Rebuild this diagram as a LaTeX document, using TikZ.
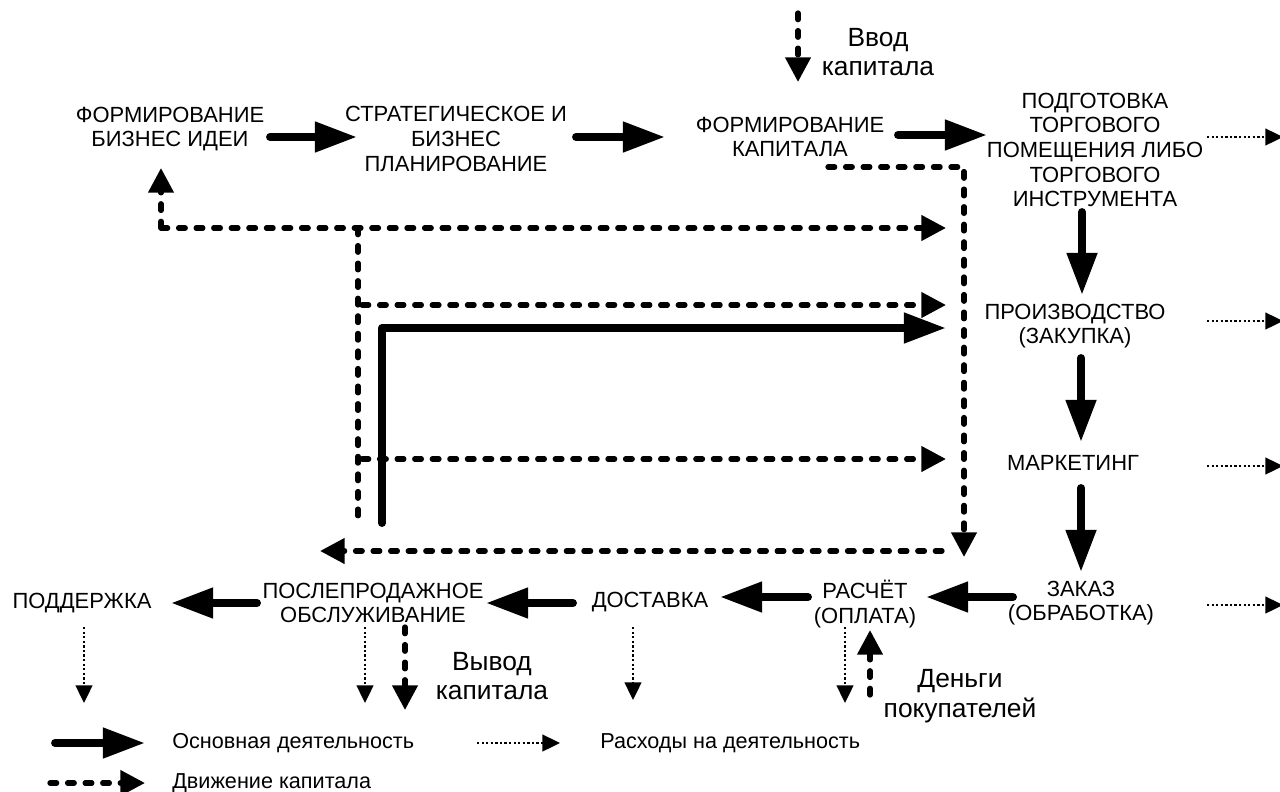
\documentclass[tikz,border=0pt]{standalone}
\usepackage{fontspec}
\setmainfont{Liberation Sans}
\usetikzlibrary{arrows.meta,calc}
\tikzset{
  stage/.style={align=center,inner sep=0pt,font=\fontsize{12.5}{14}\selectfont},
  flowlabel/.style={align=center,inner sep=0pt,font=\fontsize{15}{17}\selectfont},
  legtext/.style={anchor=west,inner sep=0pt,font=\fontsize{12.3}{14}\selectfont},
  mainarr/.style={line width=4.5pt,line cap=round,line join=round,-{Triangle[length=24pt,width=16.5pt]}},
  caparr/.style={line width=3pt,line cap=round,dash pattern=on 3.8pt off 6.2pt,-{Triangle[length=14pt,width=14pt]}},
  capline/.style={line width=3pt,line cap=round,dash pattern=on 3.8pt off 6.2pt},
  costarr/.style={line width=1.1pt,dash pattern=on 1.3pt off 1.3pt,-{Triangle[length=10pt,width=9.5pt]}}
}
\begin{document}
\begin{tikzpicture}[x=0.02cm,y=-0.02cm]
\useasboundingbox (0,0) rectangle (1280,791);
% stages
\node[stage](idea) at(170,129) {ФОРМИРОВАНИЕ\\БИЗНЕС ИДЕИ};
\node[stage](plan) at(456,139) {СТРАТЕГИЧЕСКОЕ И\\БИЗНЕС\\ПЛАНИРОВАНИЕ};
\node[stage](capital) at(790,137) {ФОРМИРОВАНИЕ\\КАПИТАЛА};
\node[stage](prep) at(1095,150) {ПОДГОТОВКА\\ТОРГОВОГО\\ПОМЕЩЕНИЯ ЛИБО\\ТОРГОВОГО\\ИНСТРУМЕНТА};
\node[stage](prod) at(1075,326) {ПРОИЗВОДСТВО\\(ЗАКУПКА)};
\node[stage](mkt) at(1073,463) {МАРКЕТИНГ};
\node[stage](order) at(1081,603) {ЗАКАЗ\\(ОБРАБОТКА)};
\node[stage](pay) at(865,604) {РАСЧЁТ\\(ОПЛАТА)};
\node[stage](deliv) at(650,602) {ДОСТАВКА};
\node[stage](after) at(373,603) {ПОСЛЕПРОДАЖНОЕ\\ОБСЛУЖИВАНИЕ};
\node[stage](support) at(82,603) {ПОДДЕРЖКА};
\node[flowlabel](vvod) at(878,52) {Ввод\\капитала};
\node[flowlabel](vyvod) at(492,676) {Вывод\\капитала};
\node[flowlabel](dengi) at(960,696) {Деньги\\покупателей};
% main flow
\draw[mainarr] ($(idea)+(100,8)$) -- ($(plan)+(-99,-2)$);
\draw[mainarr] ($(plan)+(120,-2)$) -- ($(capital)+(-125,0)$);
\draw[mainarr] ($(capital)+(108,-2)$) -- ($(prep)+(-108,-15)$);
\draw[mainarr] ($(prep)+(-13,62)$) -- ($(prod)+(7,-31)$);
\draw[mainarr] ($(prod)+(6,32)$) -- ($(mkt)+(8,-21)$);
\draw[mainarr] ($(mkt)+(8,25)$) -- ($(order)+(0,-31)$);
\draw[mainarr] ($(order)+(-68,-6)$) -- ($(pay)+(61,-7)$);
\draw[mainarr] ($(pay)+(-57,-7)$) -- ($(deliv)+(70,-5)$);
\draw[mainarr] ($(deliv)+(-77,1)$) -- ($(after)+(113,0)$);
\draw[mainarr] ($(after)+(-116,0)$) -- ($(support)+(89,0)$);
\coordinate (lstart) at(382,523);
\coordinate (lcorner) at(382,328);
\draw[mainarr] (lstart) -- (lcorner) -- ($(prod)+(-129,2)$);
% costs
\coordinate (cost1) at(1283,137);
\coordinate (cost2) at(1283,321);
\coordinate (cost3) at(1283,466);
\coordinate (cost4) at(1283,605);
\coordinate (cost5) at(84,703);
\coordinate (cost6) at(365,703);
\coordinate (cost7) at(633,700);
\coordinate (cost8) at(845,703);
\draw[costarr] ($(prep)+(112,-13)$) -- (cost1);
\draw[costarr] ($(prod)+(132,-5)$) -- (cost2);
\draw[costarr] ($(mkt)+(134,3)$) -- (cost3);
\draw[costarr] ($(order)+(126,2)$) -- (cost4);
\draw[costarr] ($(support)+(2,24)$) -- (cost5);
\draw[costarr] ($(after)+(-8,24)$) -- (cost6);
\draw[costarr] ($(deliv)+(-17,25)$) -- (cost7);
\draw[costarr] ($(pay)+(-20,23)$) -- (cost8);
% capital
\coordinate (vin) at(798,13);
\coordinate (vout) at(405,710);
\coordinate (money) at(870,695);
\draw[caparr] (vin) -- ($(capital)+(8,-55)$);
\draw[caparr] ($(after)+(32,24)$) -- (vout);
\draw[caparr] (money) -- ($(pay)+(5,26)$);
\coordinate (rtop) at(964,167);
\coordinate (rbot) at(964,557);
\draw[caparr] ($(capital)+(38,30)$) -- (rtop) -- (rbot);
\coordinate (bstart) at(942,551);
\coordinate (bend) at(320,551);
\draw[caparr] (bstart) -- (bend);
\coordinate (tl) at(161,228);
\coordinate (tj) at(358,228);
\coordinate (lb) at(358,523);
\draw[caparr] (tl) -- ($(idea)+(-9,39)$);
\draw[caparr] (tl) -- ($(prep)+(-149,78)$);
\draw[capline] (tj) -- (lb);
\coordinate (m1) at(362,305);
\coordinate (m2) at(362,459);
\draw[caparr] (m1) -- ($(prod)+(-129,-21)$);
\draw[caparr] (m2) -- ($(mkt)+(-127,-4)$);
% legend
\node[legtext](leg1) at(172,743) {Основная деятельность};
\node[legtext](leg2) at(600,743) {Расходы на деятельность};
\node[legtext](leg3) at(172,783) {Движение капитала};
\coordinate (k1) at(55,743);
\coordinate (k2) at(477,743);
\coordinate (k3) at(50,783);
\draw[mainarr] (k1) -- ($(leg1.west)+(-27,0)$);
\draw[costarr] (k2) -- ($(leg2.west)+(-40,0)$);
\draw[caparr] (k3) -- ($(leg3.west)+(-27,0)$);
\end{tikzpicture}
\end{document}
